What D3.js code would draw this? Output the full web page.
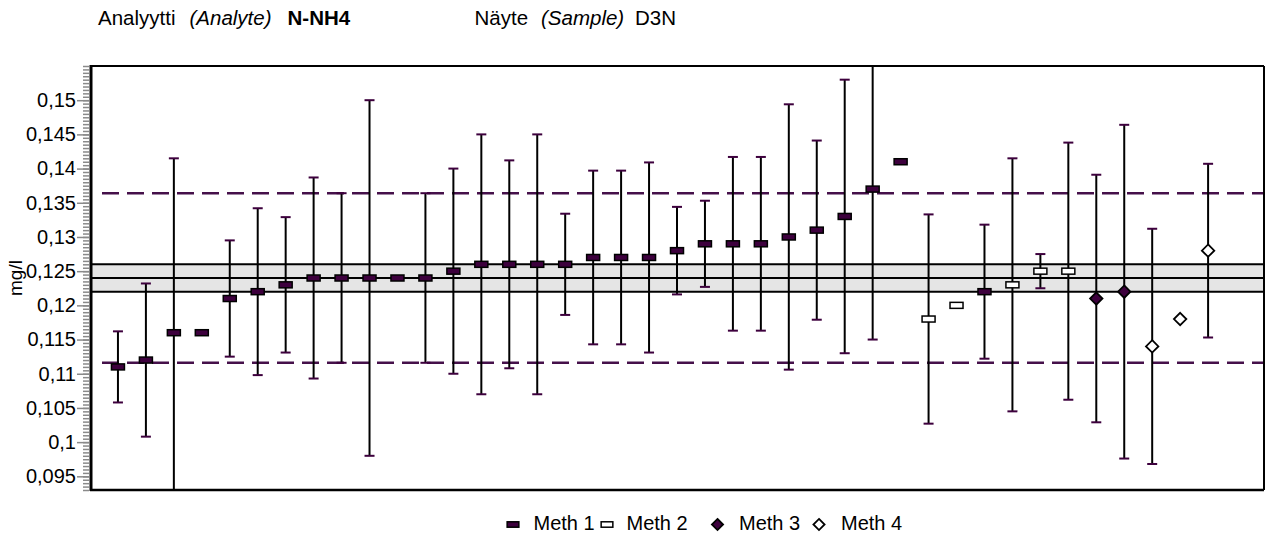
<!DOCTYPE html>
<html>
<head>
<meta charset="utf-8">
<script src="https://cdn.jsdelivr.net/npm/d3@7"></script>
<style>
  html, body { margin: 0; padding: 0; background: #fff; }
  svg { display: block; font-family: "Liberation Sans", Arial, sans-serif; }
</style>
</head>
<body>
<svg id="chart" width="1270" height="536"></svg>
<script>
// Laboratory results for N-NH4, sample D3N (mg/l), in plotting order
const methods = [1,1,1,1,1,1,1,1,1,1, 1,1,1,1,1,1,1,1,1,1, 1,1,1,1,1,1,1,1,1,2, 2,1,2,2,2,3,3,4,4,4];
const results = [0.111,0.112,0.116,0.116,0.121,0.122,0.123,0.124,0.124,0.124,
                 0.124,0.124,0.125,0.126,0.126,0.126,0.126,0.127,0.127,0.127,
                 0.128,0.129,0.129,0.129,0.130,0.131,0.133,0.137,0.141,0.118,
                 0.120,0.122,0.123,0.125,0.125,0.121,0.122,0.114,0.118,0.128];
// Expanded uncertainty reported by each laboratory (null = not reported)
const uncertainty = [0.0052,0.0112,0.0255,null,0.0085,0.0122,0.0099,0.0147,0.0124,0.026,
                     null,0.0124,0.015,0.019,0.0152,0.019,0.0074,0.0127,0.0127,0.0139,
                     0.0064,0.0063,0.0127,0.0127,0.0194,0.0131,0.020,0.022,null,0.0153,
                     null,0.0098,0.0185,0.0025,0.0188,0.0181,0.0244,0.0172,null,0.0127];

const assignedValue = 0.124;
const assignedLow = 0.122;
const assignedHigh = 0.126;
const limitLow = 0.1116;
const limitHigh = 0.1364;

const tickValues = [0.095,0.1,0.105,0.11,0.115,0.12,0.125,0.13,0.135,0.14,0.145,0.15];
const tickLabels = ["0,095","0,1","0,105","0,11","0,115","0,12","0,125","0,13","0,135","0,14","0,145","0,15"];
const legendLabels = ["Meth 1","Meth 2","Meth 3","Meth 4"];
const legendMethods = [1,2,3,4];

const svg = d3.select("#chart");
const plot = { left: 90, top: 66, right: 1264, bottom: 490 };
const DARK = "#3d003d";

const y = d3.scaleLinear().domain([0.093, 0.155]).range([plot.bottom, plot.top]);
const x = d3.scaleLinear().domain([0, 42]).range([plot.left, plot.right]);

svg.append("defs").append("clipPath").attr("id", "plotClip")
  .append("rect")
  .attr("x", plot.left).attr("y", plot.top)
  .attr("width", plot.right - plot.left).attr("height", plot.bottom - plot.top);

// Title row
const titleParts = [
  { t: "Analyytti", x: 98, style: "normal", weight: "normal" },
  { t: "(Analyte)", x: 189.5, style: "italic", weight: "normal" },
  { t: "N-NH4", x: 287.5, style: "normal", weight: "bold" },
  { t: "Näyte", x: 474.5, style: "normal", weight: "normal" },
  { t: "(Sample)", x: 541, style: "italic", weight: "normal" },
  { t: "D3N", x: 635, style: "normal", weight: "normal" }
];
svg.append("g").selectAll("text").data(titleParts).join("text")
  .attr("x", d => d.x).attr("y", 25)
  .attr("font-size", 20.5)
  .attr("font-style", d => d.style)
  .attr("font-weight", d => d.weight)
  .attr("fill", "#000")
  .text(d => d.t);

// Assigned value with its acceptance band
svg.append("rect")
  .attr("x", plot.left).attr("y", y(assignedHigh))
  .attr("width", plot.right - plot.left)
  .attr("height", y(assignedLow) - y(assignedHigh))
  .attr("fill", "#e5e5e5");
svg.append("g").selectAll("line").data([assignedLow, assignedValue, assignedHigh]).join("line")
  .attr("x1", plot.left).attr("x2", plot.right)
  .attr("y1", d => y(d)).attr("y2", d => y(d))
  .attr("stroke", "#000").attr("stroke-width", 2);

// Tolerance limits
svg.append("g").selectAll("line").data([limitLow, limitHigh]).join("line")
  .attr("x1", plot.left + 12).attr("x2", plot.right)
  .attr("y1", d => y(d)).attr("y2", d => y(d))
  .attr("stroke", "#45104a").attr("stroke-width", 2.5)
  .attr("stroke-dasharray", "17,8");

const points = results.map((v, i) => ({ pos: i + 1, v, u: uncertainty[i], m: methods[i] }));
const withBars = points.filter(d => d.u !== null);

// Uncertainty bars
const bars = svg.append("g").attr("clip-path", "url(#plotClip)");
bars.selectAll("line.stem").data(withBars).join("line")
  .attr("class", "stem")
  .attr("x1", d => x(d.pos)).attr("x2", d => x(d.pos))
  .attr("y1", d => y(d.v - d.u)).attr("y2", d => y(d.v + d.u))
  .attr("stroke", "#000").attr("stroke-width", 2);
const caps = withBars.flatMap(d => [{ pos: d.pos, c: d.v - d.u }, { pos: d.pos, c: d.v + d.u }]);
bars.selectAll("line.cap").data(caps).join("line")
  .attr("class", "cap")
  .attr("x1", d => x(d.pos) - 5).attr("x2", d => x(d.pos) + 5)
  .attr("y1", d => y(d.c)).attr("y2", d => y(d.c))
  .attr("stroke", DARK).attr("stroke-width", 2);

// Markers by method
function drawMarker(sel, m, scale) {
  const s = scale || 1;
  if (m === 1 || m === 2) {
    sel.append("rect")
      .attr("x", -6.5 * s).attr("y", -3 * s)
      .attr("width", 13 * s).attr("height", 6 * s)
      .attr("fill", m === 1 ? DARK : "#fff")
      .attr("stroke", "#000").attr("stroke-width", 1.5);
  } else {
    const r = 6.2 * s;
    sel.append("path")
      .attr("d", `M0,${-r}L${r},0L0,${r}L${-r},0Z`)
      .attr("fill", m === 3 ? DARK : "#fff")
      .attr("stroke", "#000").attr("stroke-width", 1.8);
  }
}
svg.append("g").selectAll("g").data(points).join("g")
  .attr("transform", d => `translate(${x(d.pos)},${y(d.v)})`)
  .each(function (d) { drawMarker(d3.select(this), d.m); });

// Frame
const frame = svg.append("g").attr("stroke", "#000").attr("fill", "none");
frame.append("line").attr("x1", plot.left).attr("x2", plot.right).attr("y1", plot.top).attr("y2", plot.top).attr("stroke-width", 2);
frame.append("line").attr("x1", plot.right).attr("x2", plot.right).attr("y1", plot.top).attr("y2", plot.bottom).attr("stroke-width", 2);
frame.append("line").attr("x1", plot.left).attr("x2", plot.right).attr("y1", plot.bottom).attr("y2", plot.bottom).attr("stroke-width", 2.5);

// Y axis: minor ticks every 0.0005, labelled major ticks every 0.005
const minorValues = d3.range(186, 311).map(k => k * 0.0005);
const minorAxis = svg.append("g").attr("transform", `translate(${plot.left - 1},0)`)
  .call(d3.axisLeft(y).tickValues(minorValues).tickSize(6).tickFormat(""));
minorAxis.select(".domain").remove();
minorAxis.selectAll(".tick line").attr("stroke", "#8a8a8a").attr("stroke-width", 1.5);

const majorAxis = svg.append("g").attr("transform", `translate(${plot.left - 1},0)`)
  .call(d3.axisLeft(y).tickValues(tickValues).tickSize(12).tickPadding(1)
    .tickFormat((d, i) => tickLabels[i]));
majorAxis.select(".domain").remove();
majorAxis.selectAll(".tick line").attr("stroke", "#8a8a8a").attr("stroke-width", 1.5);
majorAxis.selectAll(".tick text")
  .attr("font-size", 20).attr("fill", "#000")
  .attr("font-family", "'Liberation Sans', Arial, sans-serif");

svg.append("line")
  .attr("x1", plot.left + 1).attr("x2", plot.left + 1)
  .attr("y1", plot.top - 1).attr("y2", plot.bottom + 1)
  .attr("stroke", "#000").attr("stroke-width", 3);

// Axis title
svg.append("text")
  .attr("transform", `translate(22,${(plot.top + plot.bottom) / 2}) rotate(-90)`)
  .attr("text-anchor", "middle")
  .attr("font-size", 19)
  .attr("fill", "#000")
  .text("mg/l");

// Legend
const legendMarkerX = [513, 607, 717.5, 819];
const legendTextX = [533.5, 626.5, 739, 841];
const legend = svg.append("g");
legendMethods.forEach((m, i) => {
  const g = legend.append("g").attr("transform", `translate(${legendMarkerX[i]},524.5)`);
  drawMarker(g, m, 0.9);
  legend.append("text")
    .attr("x", legendTextX[i]).attr("y", 529.5)
    .attr("font-size", 20)
    .attr("fill", "#000")
    .text(legendLabels[i]);
});
</script>
</body>
</html>
